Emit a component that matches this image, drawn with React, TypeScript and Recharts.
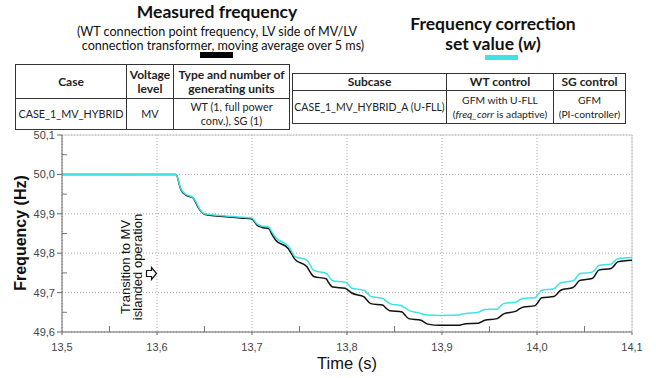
import { LineChart, Line, XAxis, YAxis, CartesianGrid, ReferenceLine } from 'recharts';

// time axis (s) and the two traces
const timeS = [
  13.5, 13.56, 13.565, 13.575, 13.58, 13.62, 13.625, 13.63, 13.638, 13.64, 13.645, 13.65,
  13.66, 13.67, 13.68, 13.69, 13.7, 13.705, 13.71, 13.718, 13.72, 13.725, 13.738, 13.74,
  13.745, 13.758, 13.76, 13.765, 13.778, 13.78, 13.785, 13.798, 13.8, 13.805, 13.818, 13.82,
  13.825, 13.838, 13.84, 13.845, 13.858, 13.86, 13.865, 13.878, 13.88, 13.885, 13.898, 13.9,
  13.918, 13.92, 13.925, 13.938, 13.94, 13.945, 13.958, 13.96, 13.965, 13.978, 13.98, 13.985,
  13.998, 14.0, 14.005, 14.018, 14.02, 14.025, 14.038, 14.04, 14.045, 14.058, 14.06, 14.065,
  14.078, 14.08, 14.085, 14.1,
];

const measuredHz = [
  50.0, 50.0, 50.0, 50.0, 50.0, 50.0, 49.962, 49.948, 49.94, 49.932, 49.91, 49.899,
  49.895, 49.893, 49.891, 49.889, 49.887, 49.872, 49.866, 49.862, 49.852, 49.833, 49.812, 49.805,
  49.785, 49.765, 49.757, 49.741, 49.735, 49.728, 49.714, 49.711, 49.708, 49.699, 49.689, 49.684,
  49.672, 49.668, 49.663, 49.654, 49.651, 49.646, 49.634, 49.63, 49.627, 49.62, 49.617, 49.617,
  49.617, 49.618, 49.621, 49.622, 49.624, 49.63, 49.634, 49.637, 49.646, 49.653, 49.656, 49.663,
  49.667, 49.672, 49.687, 49.69, 49.694, 49.706, 49.713, 49.717, 49.731, 49.736, 49.74, 49.757,
  49.761, 49.765, 49.778, 49.782,
];

const setValueHz = [
  50.0, 50.0, 49.9988, 49.9988, 50.0, 50.0, 49.964, 49.95, 49.941, 49.934, 49.912, 49.9,
  49.897, 49.895, 49.893, 49.891, 49.889, 49.875, 49.869, 49.866, 49.858, 49.84, 49.818, 49.812,
  49.792, 49.782, 49.775, 49.756, 49.749, 49.744, 49.73, 49.726, 49.724, 49.711, 49.706, 49.702,
  49.69, 49.685, 49.681, 49.672, 49.666, 49.663, 49.655, 49.647, 49.645, 49.643, 49.642, 49.642,
  49.643, 49.645, 49.647, 49.65, 49.652, 49.657, 49.658, 49.662, 49.672, 49.676, 49.679, 49.685,
  49.687, 49.692, 49.706, 49.71, 49.714, 49.725, 49.73, 49.734, 49.748, 49.752, 49.755, 49.769,
  49.772, 49.776, 49.786, 49.789,
];

const xTicks = [13.5, 13.6, 13.7, 13.8, 13.9, 14.0, 14.1];
const yTicks = [49.6, 49.7, 49.8, 49.9, 50.0, 50.1];
const xMinor = [13.55, 13.65, 13.75, 13.85, 13.95, 14.05];
const yMinor = [49.65, 49.75, 49.85, 49.95, 50.05];

const data = timeS.map((t, i) => ({ t, measured: measuredHz[i], setValue: setValueHz[i] }));

const comma = (v: number) => v.toFixed(1).replace('.', ',');

const CYAN = '#3ee4e4';
const headFont = 'Lato, "Open Sans", sans-serif';

const cell: React.CSSProperties = {
  border: '1px solid #333',
  padding: 0,
  textAlign: 'center',
  verticalAlign: 'middle',
  lineHeight: '14px',
  color: '#222',
  whiteSpace: 'nowrap',
};
const headCell: React.CSSProperties = { ...cell, fontWeight: 700, fontSize: 12 };

const App = () => {
  return (
    <div style={{ position: 'fixed', left: 0, top: 0, width: 656, height: 378, background: '#fff', overflow: 'hidden' }}>
      <LineChart width={656} height={378} data={data} margin={{ top: 135, right: 24, bottom: 0, left: 12 }}>
        <CartesianGrid stroke="#aaa" strokeDasharray="1 2" />
        <XAxis
          dataKey="t"
          type="number"
          domain={[13.5, 14.1]}
          ticks={xTicks}
          allowDataOverflow
          height={46}
          tickSize={3}
          tickMargin={8}
          tickFormatter={comma}
          stroke="#666"
          tick={{ fontSize: 11, fill: '#444', fontFamily: '"Liberation Sans", Arial, sans-serif' }}
        />
        <YAxis
          type="number"
          domain={[49.6, 50.1]}
          ticks={yTicks}
          allowDataOverflow
          width={50}
          tickSize={5}
          tickMargin={2}
          tickFormatter={comma}
          stroke="#666"
          tick={{ fontSize: 11, fill: '#444', fontFamily: '"Liberation Sans", Arial, sans-serif' }}
        />
        <ReferenceLine y={50.1} stroke="#ccc" />
        <ReferenceLine x={14.1} stroke="#ccc" />
        {xMinor.map((t) => (
          <ReferenceLine key={'xm' + t} segment={[{ x: t, y: 49.6 }, { x: t, y: 49.615 }]} stroke="#777" />
        ))}
        {yMinor.map((v) => (
          <ReferenceLine key={'ym' + v} segment={[{ x: 13.5, y: v }, { x: 13.5053, y: v }]} stroke="#777" />
        ))}
        <Line type="monotone" dataKey="measured" stroke="#111" strokeWidth={1.5} dot={false} isAnimationActive={false} />
        <Line type="monotone" dataKey="setValue" stroke={CYAN} strokeWidth={1.5} dot={false} isAnimationActive={false} />
      </LineChart>

      {/* titles and legend bars */}
      <div style={{ position: 'absolute', left: 57, width: 320, top: 2, textAlign: 'center', fontFamily: headFont, color: '#111' }}>
        <div style={{ fontSize: 17.5, fontWeight: 700, lineHeight: '20px', marginBottom: 3 }}>Measured frequency</div>
        <div style={{ fontSize: 12.6, lineHeight: '13.5px' }}>(WT connection point frequency, LV side of MV/LV</div>
        <div style={{ fontSize: 12.6, lineHeight: '13.5px', paddingLeft: 12 }}>connection transformer, moving average over 5 ms)</div>
      </div>
      <div style={{ position: 'absolute', left: 200, top: 52, width: 33, height: 6, background: '#000' }} />
      <div style={{ position: 'absolute', left: 393, width: 200, top: 14, textAlign: 'center', fontFamily: headFont, color: '#111', fontSize: 17.5, fontWeight: 700, lineHeight: '20px' }}>
        <div>Frequency correction</div>
        <div>set value (<i>w</i>)</div>
      </div>
      <div style={{ position: 'absolute', left: 485, top: 55, width: 33, height: 5, background: CYAN }} />

      {/* case tables */}
      <table style={{ position: 'absolute', left: 15, top: 64, width: 274, height: 65, borderCollapse: 'collapse', tableLayout: 'fixed', fontFamily: headFont, fontSize: 10.8 }}>
        <colgroup>
          <col style={{ width: 111 }} />
          <col style={{ width: 47 }} />
          <col style={{ width: 116 }} />
        </colgroup>
        <tbody>
          <tr style={{ height: 34 }}>
            <td style={headCell}>Case</td>
            <td style={headCell}>Voltage<br />level</td>
            <td style={headCell}>Type and number of<br />generating units</td>
          </tr>
          <tr style={{ height: 31 }}>
            <td style={cell}>CASE_1_MV_HYBRID</td>
            <td style={cell}>MV</td>
            <td style={cell}>WT (1, full power<br />conv.), SG (1)</td>
          </tr>
        </tbody>
      </table>
      <table style={{ position: 'absolute', left: 292, top: 73, width: 333, height: 50, borderCollapse: 'collapse', tableLayout: 'fixed', fontFamily: headFont, fontSize: 10.5 }}>
        <colgroup>
          <col style={{ width: 154 }} />
          <col style={{ width: 107 }} />
          <col style={{ width: 72 }} />
        </colgroup>
        <tbody>
          <tr style={{ height: 17 }}>
            <td style={headCell}>Subcase</td>
            <td style={headCell}>WT control</td>
            <td style={headCell}>SG control</td>
          </tr>
          <tr style={{ height: 33 }}>
            <td style={cell}>CASE_1_MV_HYBRID_A (U-FLL)</td>
            <td style={{ ...cell, fontSize: 10.3 }}>GFM with U-FLL<br />(<i>freq_corr</i> is adaptive)</td>
            <td style={{ ...cell, fontSize: 10.3 }}>GFM<br />(PI-controller)</td>
          </tr>
        </tbody>
      </table>

      {/* axis titles and annotation */}
      <svg width={656} height={378} style={{ position: 'absolute', left: 0, top: 0, pointerEvents: 'none' }}>
        <text x={20} y={233} transform="rotate(-90 20 233)" textAnchor="middle" dominantBaseline="central"
          fontFamily='"Liberation Sans", Arial, sans-serif' fontWeight={700} fontSize={16} fill="#111">Frequency (Hz)</text>
        <text x={347} y={363} textAnchor="middle" dominantBaseline="central"
          fontFamily='"Liberation Sans", Arial, sans-serif' fontSize={16.5} fill="#111">Time (s)</text>
        <g fontFamily='"Liberation Sans", Arial, sans-serif' fontSize={13} fill="#111" textAnchor="middle">
          <text x={125} y={267} transform="rotate(-90 125 267)" dominantBaseline="central">Transition to MV</text>
          <text x={137.5} y={267} transform="rotate(-90 137.5 267)" dominantBaseline="central">islanded operation</text>
        </g>
        <polygon points="146.5,270.5 151.5,270.5 151.5,267.5 156.5,273.5 151.5,279.5 151.5,276.5 146.5,276.5"
          fill="#fff" stroke="#111" strokeWidth={1.2} />
      </svg>
    </div>
  );
};

export default App;
